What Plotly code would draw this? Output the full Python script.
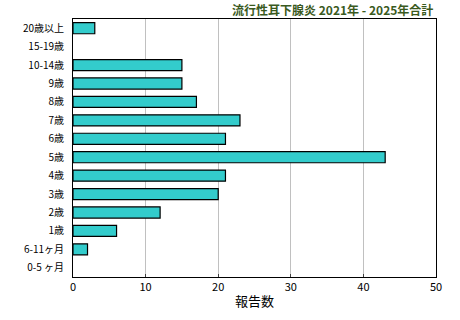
import plotly.graph_objects as go

categories = ["20歳以上", "15-19歳", "10-14歳", "9歳", "8歳", "7歳", "6歳", "5歳",
              "4歳", "3歳", "2歳", "1歳", "6-11ヶ月", "0-5 ヶ月"]
values = [3, 0, 15, 15, 17, 23, 21, 43, 21, 20, 12, 6, 2, 0]
x_ticks = [0, 10, 20, 30, 40, 50]
title_text = "流行性耳下腺炎 2021年 - 2025年合計"
x_title = "報告数"

font_family = "Noto Sans CJK JP, sans-serif"

fig = go.Figure(go.Bar(
    y=categories,
    x=values,
    orientation="h",
    marker=dict(color="#33CCCC",
                line=dict(color="black", width=[1.2 if v > 0 else 0 for v in values])),
    width=0.6,
))

fig.update_layout(
    width=460, height=320,
    margin=dict(l=73, r=24, t=19, b=43),
    paper_bgcolor="white",
    plot_bgcolor="white",
    showlegend=False,
    font=dict(family=font_family, size=11, color="black"),
    title=dict(text=title_text, x=0.942, xanchor="right", y=0.965, yanchor="middle",
               font=dict(family=font_family, size=12, color="#3A5A1E", weight="bold")),
    bargap=0.4,
)

fig.update_xaxes(
    range=[0, 50], tickvals=x_ticks, ticktext=[str(v) for v in x_ticks],
    showgrid=True, gridcolor="#C0C0C0", gridwidth=1,
    showline=True, linecolor="black", linewidth=1, mirror=True,
    ticks="inside", ticklen=3, tickcolor="#404040",
    zeroline=False,
    title=dict(text=x_title, standoff=3, font=dict(size=13)),
    tickfont=dict(size=11),
)
fig.update_yaxes(
    categoryorder="array", categoryarray=categories, autorange="reversed",
    showline=True, linecolor="black", linewidth=1, mirror=True,
    showgrid=False, ticks="", ticklabelstandoff=6,
    tickfont=dict(size=10),
)

fig.write_html("out.html")
